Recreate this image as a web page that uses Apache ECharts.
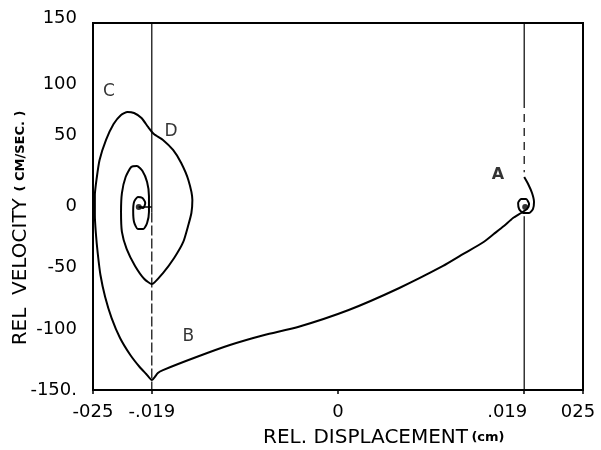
<!DOCTYPE html>
<html>
<head>
<meta charset="utf-8">
<script src="https://cdn.jsdelivr.net/npm/echarts@6/dist/echarts.min.js"></script>
<style>
  html, body { margin: 0; padding: 0; background: #fff; }
  #chart { width: 601px; height: 450px; }
</style>
</head>
<body>
<div id="chart"></div>
<script>
// Axis ticks and their printed labels
const xTicks = [-0.025, -0.019, 0, 0.019, 0.025];
const xTickText = ['-025', '-.019', '0', '.019', '025'];
const yTickText = { '-150': '-150.', '-100': '-100', '-50': '-50', '0': '0', '50': '50', '100': '100', '150': '150' };

// Clearance edges (cm)
const gapEdge = 0.019;

// Response trajectory, starting at A: relative displacement (cm)
const dispPath = [
  0.0190, 0.0194, 0.0198, 0.0200, 0.0199, 0.0195, 0.0189, 0.01848, 0.01838, 0.01869,
  0.0192, 0.0195, 0.0193, 0.01869, 0.01786, 0.01693, 0.01589, 0.01486, 0.01279, 0.01072,
  0.00626, 0.00109, -0.00409, -0.00751, -0.01103, -0.01444, -0.01786, -0.01838, -0.0190,
  -0.01957, -0.02024, -0.02119, -0.02224, -0.02310, -0.02376, -0.02424, -0.02452, -0.02471,
  -0.02481, -0.02481, -0.02462, -0.02433, -0.02367, -0.02290, -0.02214, -0.02148, -0.02081,
  -0.02005, -0.01938, -0.01879, -0.01786, -0.01683, -0.01600, -0.01527, -0.01486, -0.01496,
  -0.01527, -0.01579, -0.01672, -0.01786, -0.0190,
  -0.01976, -0.02071, -0.02157, -0.02205, -0.02214, -0.02205, -0.02167, -0.02110, -0.02052,
  -0.01995, -0.01948, -0.01929, -0.01929, -0.01948, -0.01986, -0.02043, -0.02081, -0.02090,
  -0.02081, -0.02043, -0.01995, -0.01967, -0.01986, -0.02033
];
// ... and relative velocity (cm/sec)
const velPath = [
  24.1, 18.4, 11.0, 3.7, -2.0, -5.3, -5.3, -2.0, 2.9, 6.1,
  6.1, 2.0, -2.0, -5.3, -9.4, -15.9, -22.5, -29.0, -38.8, -48.6,
  -66.6, -84.6, -98.5, -105.0, -113.2, -123.0, -133.7, -136.1, -141.8,
  -136.9, -131.2, -121.4, -107.5, -91.2, -74.0, -56.0, -38.0, -21.7,
  -6.9, 9.4, 23.3, 38.0, 54.4, 67.4, 74.8, 77.3, 76.4,
  72.3, 65.0, 59.3, 54.4, 46.2, 35.6, 21.7, 5.3, -5.3,
  -15.1, -29.0, -42.1, -54.4, -63.4,
  -59.3, -48.6, -34.7, -20.8, -4.5, 11.0, 24.1, 32.3, 33.1,
  29.0, 20.0, 8.6, -4.5, -13.5, -18.4, -18.4, -12.7, -3.7,
  3.7, 7.8, 6.9, 2.9, -1.2, -0.4
];

// Rest points (filled dots)
const restDisp = [-0.02033, 0.0191];
const restVel = [-0.4, -0.4];

// Phase labels
const markNames = ['A', 'B', 'C', 'D'];
const markDisp = [0.01631, -0.01527, -0.02338, -0.01703];
const markVel = [25.8, -106.7, 93.6, 60.9];

const FONT = 'DejaVu Sans';
const pathData = dispPath.map((x, i) => [x, velPath[i]]);
const restData = restDisp.map((x, i) => [x, restVel[i]]);
const markData = markNames.map((n, i) => ({
  name: n, value: [markDisp[i], markVel[i]],
  label: n === 'A' ? { fontWeight: 'bold', fontSize: 16 } : undefined
}));
const lastPt = pathData[pathData.length - 1];

function refLine(data, dash) {
  return {
    type: 'line', data: data, showSymbol: false, silent: true, z: 1,
    lineStyle: { color: '#000', width: 1.2, type: dash || 'solid' }
  };
}

const chart = echarts.init(document.getElementById('chart'), null, { renderer: 'canvas' });
chart.setOption({
  animation: false,
  backgroundColor: '#fff',
  grid: { left: 93, right: 18, top: 23, bottom: 60, show: true, borderColor: '#000', borderWidth: 2 },
  xAxis: {
    type: 'value', min: -0.025, max: 0.025,
    axisLine: { show: false, onZero: false },
    splitLine: { show: false },
    axisTick: { show: true, customValues: xTicks, length: 4, lineStyle: { color: '#000', width: 1.5 } },
    axisLabel: {
      customValues: xTicks, margin: 13,
      formatter: function (v) {
        const i = xTicks.findIndex(t => Math.abs(t - v) < 1e-9);
        const s = i >= 0 ? xTickText[i] : '';
        if (s === '.019') return '{l|' + s + '}';
        if (s === '025') return '{r|' + s + '}';
        return '{n|' + s + '}';
      },
      rich: {
        n: { fontFamily: FONT, fontSize: 18, color: '#000' },
        l: { fontFamily: FONT, fontSize: 18, color: '#000', padding: [0, 34, 0, 0] },
        r: { fontFamily: FONT, fontSize: 18, color: '#000', padding: [0, 10, 0, 0] }
      }
    }
  },
  yAxis: {
    type: 'value', min: -150, max: 150, interval: 50,
    axisLine: { show: false, onZero: false },
    splitLine: { show: false },
    axisTick: { show: false },
    axisLabel: {
      margin: 16,
      formatter: function (v) {
        const s = yTickText[String(v)];
        if (v === 50) return '{u|' + s + '}';
        if (v === 150) return '{h|' + s + '}';
        return '{n|' + s + '}';
      },
      rich: {
        n: { fontFamily: FONT, fontSize: 18, color: '#000' },
        u: { fontFamily: FONT, fontSize: 18, color: '#000', padding: [0, 0, 20, 0] },
        h: { fontFamily: FONT, fontSize: 18, color: '#000', padding: [0, 0, 10, 0] }
      }
    }
  },
  graphic: [
    {
      type: 'text', x: 21, y: 228, rotation: Math.PI / 2,
      style: {
        text: '{a|REL  VELOCITY}  {b|( CM/SEC. )}',
        align: 'center', verticalAlign: 'middle',
        rich: {
          a: { fontFamily: FONT, fontSize: 20, fill: '#000' },
          b: { fontFamily: FONT, fontSize: 13, fontWeight: 'bold', fill: '#000' }
        }
      }
    },
    {
      type: 'text', x: 263, y: 438,
      style: {
        text: '{a|REL. DISPLACEMENT} {b|(cm)}',
        align: 'left', verticalAlign: 'middle',
        rich: {
          a: { fontFamily: FONT, fontSize: 20, fill: '#000' },
          b: { fontFamily: FONT, fontSize: 13, fontWeight: 'bold', fill: '#000' }
        }
      }
    }
  ],
  series: [
    // clearance edge at -.019: solid above, dashed below
    refLine([[-gapEdge, 150], [-gapEdge, -5]]),
    refLine([[-gapEdge, -5], [-gapEdge, -150]], [10, 3]),
    // clearance edge at .019
    refLine([[gapEdge, 150], [gapEdge, 87]]),
    refLine([[gapEdge, 87], [gapEdge, 28]], [8, 6]),
    refLine([[gapEdge, -8], [gapEdge, -150]]),
    {
      type: 'line', data: pathData, showSymbol: false, smooth: 0.2, z: 3,
      lineStyle: { color: '#000', width: 2 }
    },
    {
      type: 'line', data: [lastPt, [-gapEdge, lastPt[1]]], showSymbol: false, z: 3,
      lineStyle: { color: '#000', width: 1.4 }
    },
    {
      type: 'scatter', data: restData, symbol: 'circle', symbolSize: 6, z: 4,
      itemStyle: { color: '#000' }
    },
    {
      type: 'scatter', data: markData, symbolSize: 0, z: 5,
      label: {
        show: true, position: 'inside', formatter: '{b}',
        fontFamily: FONT, fontSize: 17, color: '#000'
      }
    }
  ]
});
</script>
</body>
</html>
